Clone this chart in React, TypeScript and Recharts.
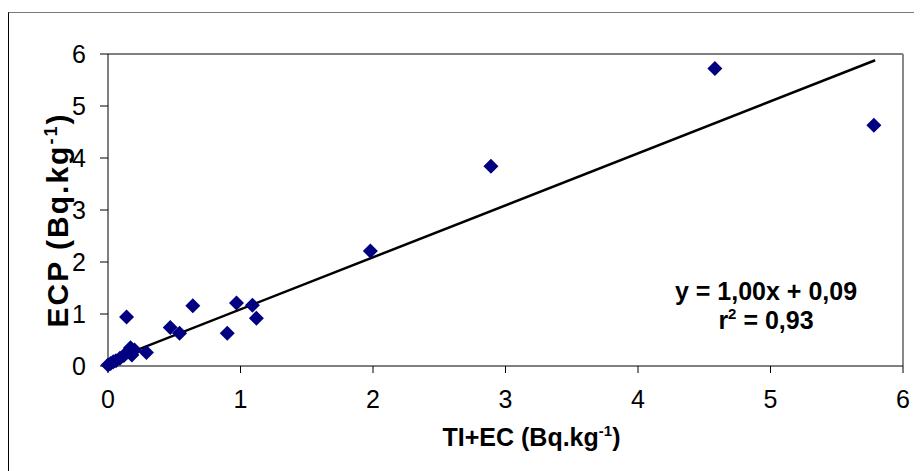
import React from "react";
import {
  ScatterChart,
  Scatter,
  XAxis,
  YAxis,
  ReferenceLine,
  Label,
} from "recharts";

const tlEc = [0.0, 0.02, 0.04, 0.06, 0.09, 0.12, 0.15, 0.17, 0.18, 0.2, 0.29, 0.14, 0.47, 0.54, 0.64, 0.9, 0.97, 1.09, 1.12, 1.98, 2.89, 4.58, 5.78];
const ecp = [0.02, 0.05, 0.08, 0.1, 0.15, 0.2, 0.27, 0.35, 0.21, 0.31, 0.26, 0.94, 0.74, 0.63, 1.16, 0.63, 1.21, 1.17, 0.92, 2.21, 3.84, 5.72, 4.63];
const axisTicks = [0, 1, 2, 3, 4, 5, 6];

const slope = 1.0;
const intercept = 0.09;
const fitRange = [0, 5.79];

const points = tlEc.map((x, i) => ({ x, y: ecp[i] }));
const fitSegment = fitRange.map((x) => ({ x, y: slope * x + intercept }));

const FONT = "'Liberation Sans', Arial, sans-serif";

const Diamond = (props: any) => {
  const { cx, cy } = props;
  const r = 7.5;
  return (
    <polygon
      points={`${cx},${cy - r} ${cx + r},${cy} ${cx},${cy + r} ${cx - r},${cy}`}
      fill="#000080"
    />
  );
};

const XTitle = (props: any) => {
  const vb = props.viewBox;
  return (
    <text
      x={vb.x + vb.width / 2 + 26}
      y={vb.y + 80}
      textAnchor="middle"
      fontFamily={FONT}
      fontWeight="bold"
      fontSize={25}
      fill="#000"
    >
      TI+EC (Bq.kg<tspan dy={-10} fontSize={15}>-1</tspan>
      <tspan dy={10}>)</tspan>
    </text>
  );
};

const YTitle = (props: any) => {
  const vb = props.viewBox;
  const cx = vb.x + 20;
  const cy = vb.y + vb.height / 2 + 10;
  return (
    <text
      x={cx}
      y={cy}
      transform={`rotate(-90 ${cx} ${cy})`}
      textAnchor="middle"
      fontFamily={FONT}
      fontWeight="bold"
      fontSize={30}
      letterSpacing={2}
      fill="#000"
    >
      ECP (Bq.kg<tspan dy={-11} fontSize={18}>-1</tspan>
      <tspan dy={11}>)</tspan>
    </text>
  );
};

export default function App() {
  return (
    <div
      style={{
        position: "relative",
        marginTop: 4,
        width: 913,
        height: 458,
        borderLeft: "1px solid #000",
        borderTop: "1px solid #777",
        background: "#fff",
      }}
    >
      <ScatterChart
        width={913}
        height={458}
        margin={{ top: 41, right: 19, bottom: 45, left: 39 }}
      >
        <XAxis
          type="number"
          dataKey="x"
          domain={[0, 6]}
          ticks={axisTicks}
          interval={0}
          height={60}
          stroke="#000"
          tickSize={7}
          tickMargin={17}
          tick={{ fill: "#000", fontSize: 25, fontFamily: FONT }}
        >
          <Label content={<XTitle />} />
        </XAxis>
        <YAxis
          type="number"
          dataKey="y"
          domain={[0, 6]}
          ticks={axisTicks}
          interval={0}
          width={60}
          stroke="#000"
          tickSize={8}
          tickMargin={14}
          tick={{ fill: "#000", fontSize: 25, fontFamily: FONT }}
        >
          <Label content={<YTitle />} />
        </YAxis>
        <ReferenceLine y={6} stroke="#000" strokeWidth={1} />
        <ReferenceLine x={6} stroke="#888" strokeWidth={2} />
        <Scatter
          data={points}
          shape={<Diamond />}
          isAnimationActive={false}
        />
        <ReferenceLine
          segment={fitSegment}
          stroke="#000"
          strokeWidth={2.5}
        />
      </ScatterChart>
      <svg
        width={913}
        height={458}
        style={{ position: "absolute", left: 0, top: 0, pointerEvents: "none" }}
      >
        {/* regression equation */}
        <text
          textAnchor="middle"
          fontFamily={FONT}
          fontWeight="bold"
          fontSize={25}
          fill="#000"
        >
          <tspan x={757} y={287}>y = 1,00x + 0,09</tspan>
          <tspan x={757} y={316}>
            r<tspan dy={-10} fontSize={15}>2</tspan>
            <tspan dy={10}> = 0,93</tspan>
          </tspan>
        </text>
      </svg>
    </div>
  );
}
